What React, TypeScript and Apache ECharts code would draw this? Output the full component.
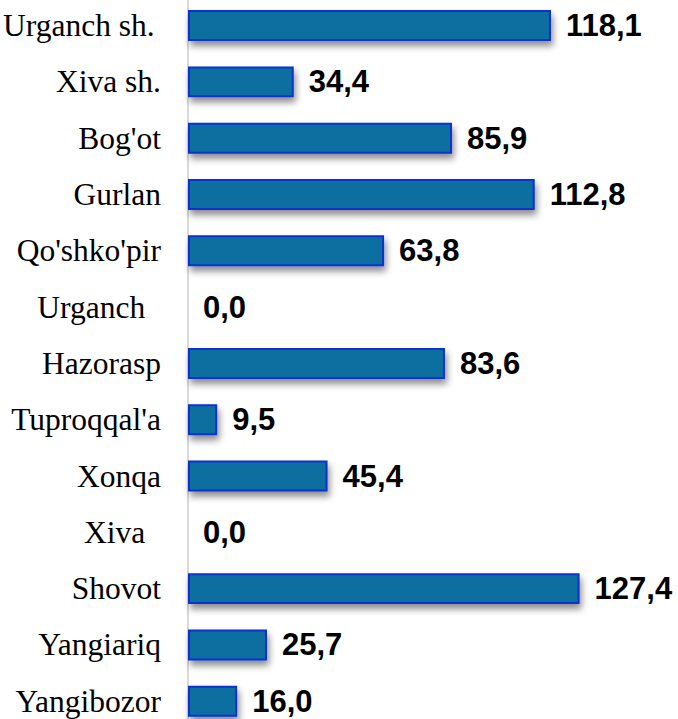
import React, { useEffect, useRef } from "react";
import * as echarts from "echarts";

const categories = [
  "Urganch sh.\u2009",
  "Xiva sh.",
  "Bog'ot",
  "Gurlan",
  "Qo'shko'pir",
  "Urganch\u00a0\u00a0",
  "Hazorasp",
  "Tuproqqal'a",
  "Xonqa",
  "Xiva\u00a0\u00a0",
  "Shovot",
  "Yangiariq",
  "Yangibozor",
];
const values = [118.1, 34.4, 85.9, 112.8, 63.8, 0.0, 83.6, 9.5, 45.4, 0.0, 127.4, 25.7, 16.0];

export default function App() {
  const ref = useRef<HTMLDivElement>(null);
  useEffect(() => {
    if (!ref.current) return;
    const chart = echarts.init(ref.current, undefined, { renderer: "svg" });
    chart.setOption({
      animation: false,
      backgroundColor: "#ffffff",
      grid: {
        left: 188,
        right: 59.7,
        top: -2.6,
        height: 732,
        containLabel: false,
        outerBoundsMode: "none",
      },
      xAxis: {
        type: "value",
        min: 0,
        max: 140,
        show: false,
      },
      yAxis: {
        type: "category",
        data: categories,
        inverse: true,
        axisTick: { show: false },
        axisLine: { show: true, lineStyle: { color: "#d9d9d9", width: 2 } },
        axisLabel: {
          margin: 27,
          fontFamily: "'Liberation Serif', 'Times New Roman', serif",
          fontSize: 31.5,
          color: "#000000",
        },
        splitLine: { show: false },
      },
      series: [
        {
          type: "bar",
          barCategoryGap: "45%",
          data: values.map((v) =>
            v === 0 ? { value: v, itemStyle: { borderWidth: 0, shadowBlur: 0, shadowColor: "transparent" } } : v
          ),
          itemStyle: {
            color: "#0b6ea0",
            borderColor: "#0a30d0",
            borderWidth: 2,
            shadowBlur: 7,
            shadowOffsetX: 2,
            shadowOffsetY: 5,
            shadowColor: "rgba(0,0,0,0.45)",
          },
          label: {
            show: true,
            position: "right",
            distance: 15,
            fontFamily: "'Liberation Sans', Arial, sans-serif",
            fontWeight: "bold",
            fontSize: 31,
            color: "#000000",
            formatter: (p: any) => Number(p.value).toFixed(1).replace(".", ","),
          },
        },
      ],
    });
    return () => chart.dispose();
  }, []);
  return (
    <div
      ref={ref}
      style={{ position: "fixed", left: 0, top: 0, width: 678, height: 719 }}
    />
  );
}
